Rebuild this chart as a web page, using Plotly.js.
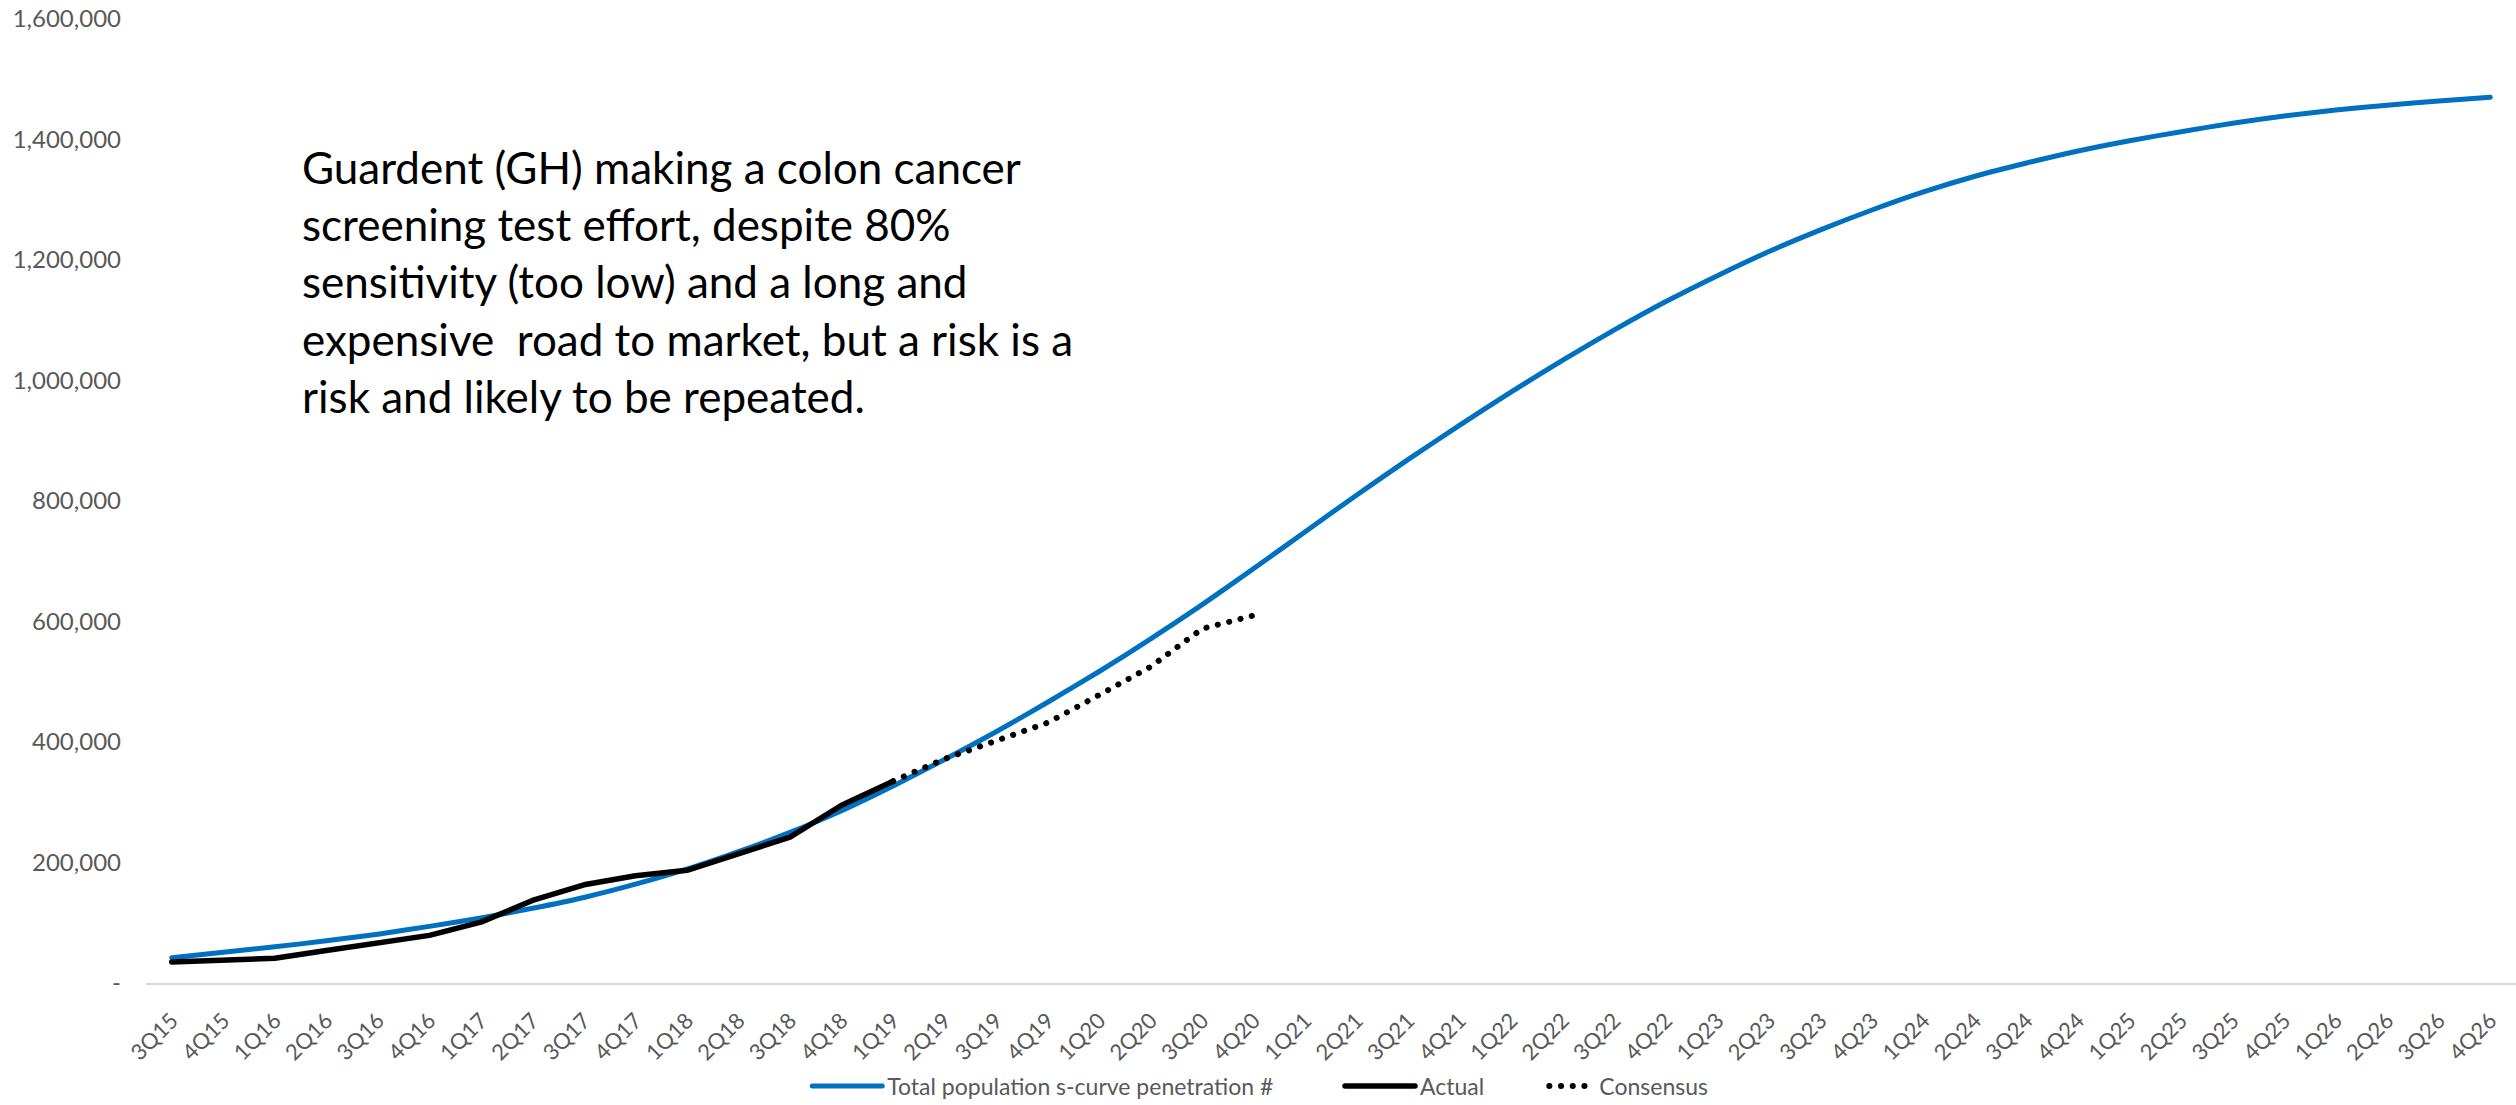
<!DOCTYPE html>
<html>
<head>
<meta charset="utf-8">
<script src="https://cdn.plot.ly/plotly-3.0.1.min.js"></script>
<style>
  html, body { margin: 0; padding: 0; background: #ffffff; }
  #chart { width: 2516px; height: 1105px; }
  /* round ends for the series lines and legend samples */
  .js-line, .legendlines path { stroke-linecap: round; stroke-linejoin: round; }
</style>
</head>
<body>
<div id="chart"></div>
<script>
// Quarters on the category axis
const quarters = [
  "3Q15","4Q15",
  "1Q16","2Q16","3Q16","4Q16",
  "1Q17","2Q17","3Q17","4Q17",
  "1Q18","2Q18","3Q18","4Q18",
  "1Q19","2Q19","3Q19","4Q19",
  "1Q20","2Q20","3Q20","4Q20",
  "1Q21","2Q21","3Q21","4Q21",
  "1Q22","2Q22","3Q22","4Q22",
  "1Q23","2Q23","3Q23","4Q23",
  "1Q24","2Q24","3Q24","4Q24",
  "1Q25","2Q25","3Q25","4Q25",
  "1Q26","2Q26","3Q26","4Q26"
];

// Total population s-curve penetration #, one value per quarter
const sCurve = [
  42000, 51000, 60000, 70000, 81000, 94000, 108000, 124000, 142000, 164000,
  189000, 218000, 250000, 286000, 327000, 371000, 417000, 466000, 517000, 571000,
  628000, 688000, 749000, 810000, 869000, 926000, 981000, 1034000, 1084000, 1131000,
  1174000, 1214000, 1250000, 1283000, 1313000, 1339000, 1361000, 1381000, 1398000, 1413000,
  1427000, 1439000, 1449000, 1457000, 1464000, 1470000
];

// Actual, 3Q15 through 1Q19
const actualQuarters = quarters.slice(0, 15);
const actual = [
  35000, 38000, 41000, 54000, 66000, 79000, 101000, 137000, 163000, 178000,
  187000, 215000, 242000, 295000, 335000
];

// Consensus, 1Q19 through 4Q20
const consensusQuarters = quarters.slice(14, 22);
const consensus = [335000, 372000, 402000, 432000, 478000, 525000, 588000, 610000];

// Value axis ticks
const yTickVals = [0, 200000, 400000, 600000, 800000, 1000000, 1200000, 1400000, 1600000];
const yTickText = ["-", "200,000", "400,000", "600,000", "800,000", "1,000,000", "1,200,000", "1,400,000", "1,600,000"];

const noteText =
  "Guardent (GH) making a colon cancer<br>" +
  "screening test effort, despite 80%<br>" +
  "sensitivity (too low) and a long and<br>" +
  "expensive  road to market, but a risk is a<br>" +
  "risk and likely to be repeated.";

const FONT = "Lato, 'Open Sans', 'Liberation Sans', sans-serif";

const traces = [
  {
    type: "scatter", mode: "lines",
    name: "Total population s-curve penetration #",
    x: quarters, y: sCurve,
    line: { color: "#0070C0", width: 5, shape: "spline", smoothing: 0.6 },
    legend: "legend"
  },
  {
    type: "scatter", mode: "lines",
    name: "Actual",
    x: actualQuarters, y: actual,
    line: { color: "#000000", width: 5.5 },
    legend: "legend2"
  },
  {
    type: "scatter", mode: "lines",
    name: "Consensus",
    x: consensusQuarters, y: consensus,
    line: { color: "#000000", width: 6, dash: "0.1px,11.6px" },
    legend: "legend3"
  }
];

// one legend box per series so the entries sit apart along the bottom
function legendAt(xPaper, sampleWidth) {
  return {
    orientation: "h",
    x: xPaper, xanchor: "left",
    y: -0.107, yanchor: "middle",
    font: { family: FONT, size: 23, color: "#595959" },
    itemwidth: sampleWidth,
    bgcolor: "rgba(0,0,0,0)"
  };
}

const layout = {
  width: 2516, height: 1105,
  margin: { l: 146, r: 0, t: 19, b: 122, autoexpand: false },
  paper_bgcolor: "#ffffff", plot_bgcolor: "#ffffff",
  font: { family: FONT, color: "#595959", size: 20 },
  showlegend: true,
  legend: legendAt(0.279, 70),
  legend2: legendAt(0.5038, 70),
  legend3: legendAt(0.590, 45),
  xaxis: {
    type: "category",
    categoryorder: "array", categoryarray: quarters,
    range: [-0.5, quarters.length - 0.5],
    tickangle: -45,
    tickfont: { family: FONT, size: 22, color: "#595959" },
    showgrid: false, zeroline: false,
    showline: true, linecolor: "#d9d9d9", linewidth: 2,
    ticks: "", ticklabelstandoff: 14,
    fixedrange: true
  },
  yaxis: {
    range: [0, 1600000],
    tickmode: "array", tickvals: yTickVals, ticktext: yTickText,
    tickfont: { family: FONT, size: 24, color: "#595959" },
    showgrid: false, zeroline: false, showline: false,
    ticks: "", ticklabelstandoff: 24,
    fixedrange: true
  },
  annotations: [
    {
      xref: "paper", yref: "paper",
      x: 0.065, y: 0.876,
      xanchor: "left", yanchor: "top",
      align: "left",
      showarrow: false,
      text: noteText,
      font: { family: FONT, size: 44, color: "#000000" }
    }
  ]
};

Plotly.newPlot("chart", traces, layout, { staticPlot: true, displayModeBar: false });
</script>
</body>
</html>
